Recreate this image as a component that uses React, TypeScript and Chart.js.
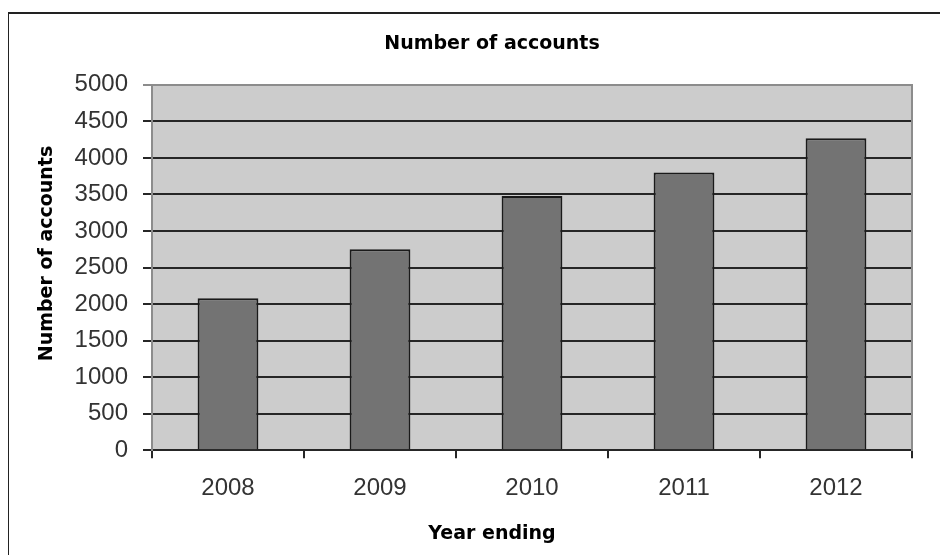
import React, { useEffect, useRef } from "react";
import { Chart, registerables } from "chart.js";

Chart.register(...registerables);

const chartTitle = "Number of accounts";
const xAxisTitle = "Year ending";
const yAxisTitle = "Number of accounts";
const categories = ["2008", "2009", "2010", "2011", "2012"];
const accounts = [2080, 2750, 3480, 3800, 4270];
const yTickValues = [0, 500, 1000, 1500, 2000, 2500, 3000, 3500, 4000, 4500, 5000];
const yMin = 0;
const yMax = 5000;

const plotBg = "#cccccc";
const barFill = "#737373";
const barEdge = "#1a1a1a";
const gridDark = "#262626";
const frameGray = "#8c8c8c";
const tickText = "#333333";
const titleFont = { family: "'DejaVu Sans', sans-serif", size: 19, weight: "bold" as const };
const tickFont = { family: "'Liberation Sans', Arial, sans-serif", size: 24 };

const decorPlugin = {
  id: "decor",
  beforeDraw(chart: any) {
    const { ctx, chartArea: a } = chart;
    ctx.save();
    ctx.fillStyle = plotBg;
    ctx.fillRect(a.left, a.top, a.right - a.left, a.bottom - a.top);
    ctx.restore();
  },
  afterDraw(chart: any) {
    const { ctx, chartArea: a } = chart;
    ctx.save();
    ctx.translate(a.left - 100, (a.top + a.bottom) / 2 - 14);
    ctx.rotate(-Math.PI / 2);
    ctx.font = "bold 19px 'DejaVu Sans', sans-serif";
    ctx.fillStyle = "#000";
    ctx.textAlign = "center";
    ctx.textBaseline = "alphabetic";
    ctx.fillText(yAxisTitle, 0, 0);
    ctx.restore();
  },
};

export default function App() {
  const ref = useRef<HTMLCanvasElement>(null);

  useEffect(() => {
    document.documentElement.style.overflow = "hidden";
    document.body.style.overflow = "hidden";
    if (!ref.current) return;
    const chart = new Chart(ref.current, {
      type: "bar",
      data: {
        labels: categories,
        datasets: [
          {
            data: accounts,
            backgroundColor: barFill,
            borderColor: barEdge,
            borderWidth: 2,
            categoryPercentage: 1,
            barPercentage: 0.4,
            yAxisID: "y",
          },
        ],
      },
      options: {
        animation: false,
        responsive: false,
        maintainAspectRatio: false,
        layout: { padding: 0 },
        plugins: {
          legend: { display: false },
          tooltip: { enabled: false },
          title: {
            display: true,
            text: chartTitle,
            color: "#000",
            font: titleFont,
            padding: { top: 19, bottom: 29 },
          },
          subtitle: {
            display: true,
            position: "bottom",
            text: xAxisTitle,
            color: "#000",
            font: titleFont,
            padding: { top: 20, bottom: 10 },
          },
        },
        scales: {
          x: {
            grid: {
              display: true,
              drawOnChartArea: false,
              drawTicks: true,
              tickLength: 8,
              color: gridDark,
              lineWidth: 2,
              offset: true,
            },
            border: { display: true, color: gridDark, width: 2 },
            ticks: { color: tickText, font: tickFont, padding: 16, maxRotation: 0 },
            afterFit: (s: any) => {
              s.height = 52;
            },
          },
          y: {
            position: "left",
            min: yMin,
            max: yMax,
            afterBuildTicks: (s: any) => {
              s.ticks = yTickValues.map((v) => ({ value: v }));
            },
            grid: {
              color: (c: any) => (c.tick && c.tick.value === yMax ? frameGray : gridDark),
              lineWidth: 2,
              tickLength: 9,
            },
            border: { display: true, color: frameGray, width: 2 },
            ticks: {
              color: tickText,
              font: tickFont,
              padding: 15,
              autoSkip: false,
              callback: (v: any) => String(v),
            },
            afterFit: (s: any) => {
              s.width = 143;
            },
          },
          y2: {
            position: "right",
            min: 0,
            max: 1,
            grid: { display: false },
            ticks: { display: false },
            border: { display: true, color: frameGray, width: 2 },
            afterFit: (s: any) => {
              s.width = 63;
            },
          },
        },
      },
      plugins: [decorPlugin],
    });
    return () => chart.destroy();
  }, []);

  return (
    <div
      style={{
        position: "absolute",
        left: 8,
        top: 12,
        width: 966,
        height: 560,
        borderTop: "2px solid #222",
        borderLeft: "1px solid #222",
        borderRight: "1px solid #222",
        background: "#fff",
      }}
    >
      <canvas ref={ref} width={966} height={541} style={{ display: "block", width: 966, height: 541 }} />
    </div>
  );
}
